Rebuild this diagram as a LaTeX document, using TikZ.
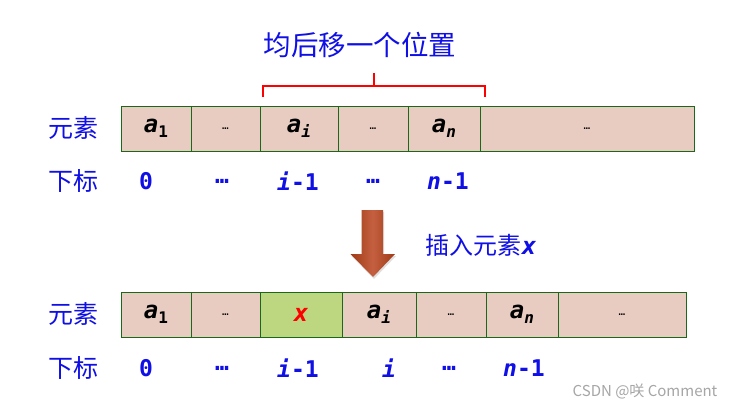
\documentclass[tikz,border=0pt]{standalone}
\usepackage{fontspec}
\newfontfamily\cjk{Noto Sans CJK SC}
\newfontfamily\mono{DejaVu Sans Mono}
\usetikzlibrary{shadows}
\definecolor{txtblue}{RGB}{15,15,230}
\definecolor{cellpink}{RGB}{232,204,193}
\definecolor{cellgreen}{RGB}{188,215,128}
\definecolor{cellborder}{RGB}{25,105,25}
\definecolor{arrowdark}{RGB}{160,58,22}
\definecolor{arrowlight}{RGB}{196,96,64}
\newcommand{\elem}[2]{{\mono\bfseries{\itshape #1}\raisebox{-0.35ex}{\fontsize{16}{16}\selectfont #2}}}
\tikzset{
  cell/.style={draw=cellborder, line width=0.9pt, fill=cellpink, inner sep=0pt,
    minimum height=45pt, anchor=center, font=\mono\bfseries\fontsize{24}{24}\selectfont},
  dotscell/.style={cell, font=\mono\fontsize{11}{11}\selectfont},
  lbl/.style={text=txtblue, font=\cjk\fontsize{25}{25}\selectfont, inner sep=0pt},
  idx/.style={text=txtblue, font=\mono\bfseries\fontsize{23}{23}\selectfont, inner sep=0pt},
}
\begin{document}
\begin{tikzpicture}[x=1pt,y=-1pt]
\useasboundingbox (0,0) rectangle (739,409);
\fill[white] (0,0) rectangle (739,409);

% title
\node[text=txtblue, font=\cjk\fontsize{27.5}{27.5}\selectfont, inner sep=0pt] (title) at (360,45) {均后移一个位置};

% top row
\node[lbl] (lab1) at (73,128) {元素};
\node[cell, minimum width=70pt] (t1) at (156,128.5) {\elem{a}{1}};
\node[dotscell, minimum width=69pt] (t2) at (225.5,128.5) {…};
\node[cell, minimum width=78pt] (t3) at (299,128.5) {\elem{a}{\itshape i}};
\node[dotscell, minimum width=70pt] (t4) at (373,128.5) {…};
\node[cell, minimum width=72pt] (t5) at (444,128.5) {\elem{a}{\itshape n}};
\node[dotscell, minimum width=214pt] (t6) at (587,128.5) {…};

% bracket
\coordinate (bl) at (263,97);
\coordinate (br) at (485,97);
\coordinate (bm) at (374,73);
\draw[red, line width=1.2pt] (bl) -- (263,86) -- (485,86) -- (br);
\draw[red, line width=1.2pt] (374,86) -- (bm);

% top indices
\node[lbl] (lab2) at (73,181) {下标};
\node[idx] (i1) at (146,181) {0};
\node[idx] (i2) at (222,181) {…};
\node[idx] (i3) at (298,181) {{\itshape i}-1};
\node[idx] (i4) at (373,181) {…};
\node[idx] (i5) at (448,181) {{\itshape n}-1};

% arrow
\shade[left color=arrowdark, right color=arrowdark, middle color=arrowlight, drop shadow={opacity=0.25, shadow xshift=1pt, shadow yshift=-2pt}]
  (361.5,210) -- (383,210) -- (383,254) -- (395,254) -- (373,277) -- (350.5,254) -- (361.5,254) -- cycle;
\node[text=txtblue, font=\cjk\fontsize{24}{24}\selectfont, inner sep=0pt] (ins) at (481,245) {插入元素{\mono\bfseries\itshape x}};

% bottom row
\node[lbl] (lab3) at (73,314) {元素};
\node[cell, minimum width=70pt] (b1) at (156,314.5) {\elem{a}{1}};
\node[dotscell, minimum width=69pt] (b2) at (225.5,314.5) {…};
\node[cell, fill=cellgreen, minimum width=82pt, text=red] (b3) at (301,314.5) {\itshape x};
\node[cell, minimum width=74pt] (b4) at (379,314.5) {\elem{a}{\itshape i}};
\node[dotscell, minimum width=70pt] (b5) at (451,314.5) {…};
\node[cell, minimum width=72pt] (b6) at (522,314.5) {\elem{a}{\itshape n}};
\node[dotscell, minimum width=128pt] (b7) at (622,314.5) {…};

% bottom indices
\node[lbl] (lab4) at (73,368) {下标};
\node[idx] (j1) at (146,368) {0};
\node[idx] (j2) at (222,368) {…};
\node[idx] (j3) at (298,368) {{\itshape i}-1};
\node[idx] (j4) at (389,368) {{\itshape i}};
\node[idx] (j5) at (449,368) {…};
\node[idx] (j6) at (524,368) {{\itshape n}-1};

% watermark
\node[text=black!35, font=\cjk\fontsize{15}{15}\selectfont, inner sep=0pt] (wm) at (645,391) {CSDN @咲 Comment};
\end{tikzpicture}
\end{document}
